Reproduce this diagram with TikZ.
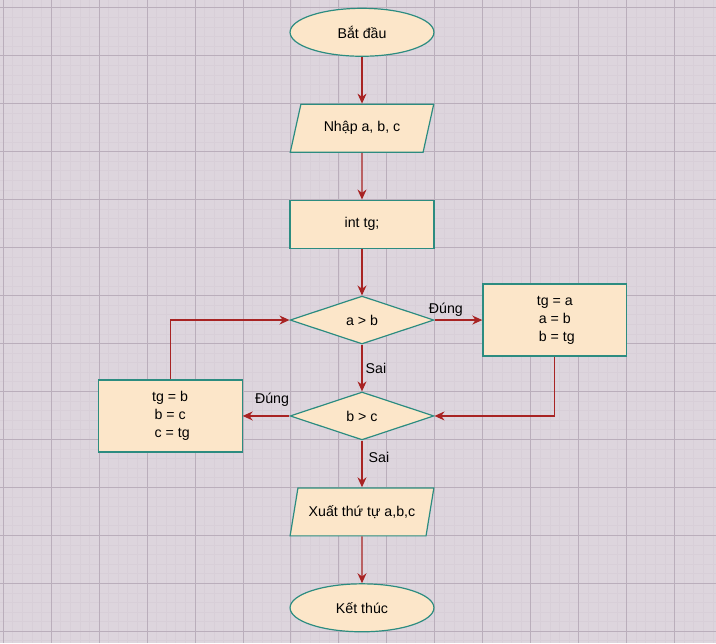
\documentclass[tikz,border=0pt]{standalone}
\usepackage{fontspec}
\setmainfont{Liberation Sans}
\usepackage{xcolor}
\usetikzlibrary{arrows.meta}
\usetikzlibrary{positioning,shapes.geometric,shapes}
\usetikzlibrary{calc}
\definecolor{bgcol}{HTML}{DDD5DD}
\definecolor{gridminor}{HTML}{D8CFD8}
\definecolor{gridmajor}{HTML}{BAAEBB}
\definecolor{boxfill}{HTML}{FCE6C9}
\definecolor{boxline}{HTML}{2C8C80}
\definecolor{arrowcol}{HTML}{A82323}

\begin{document}
\begin{tikzpicture}[x=1pt, y=-1pt, font=\fontsize{14.2}{18}\selectfont,
		base/.style = {draw=boxline, fill=boxfill, line width=1.2pt, inner sep=0pt, align=center},
		term/.style = {base, ellipse, minimum width=144pt, minimum height=48pt},
		io/.style = {base, trapezium, trapezium left angle=63.4, trapezium right angle=116.6, trapezium stretches=true, minimum width=144pt, minimum height=48pt},
		proc/.style = {base, rectangle, minimum width=144pt, minimum height=48pt},
		tall/.style = {proc, minimum height=72pt},
		cond/.style = {base, diamond, minimum width=144pt, minimum height=48pt},
		flow/.style = {draw=arrowcol, line width=1.2pt, -{Stealth[length=10pt,width=9pt]}}]
		% background and grid
		\fill[bgcol] (0,0) rectangle (716,643);
		\foreach \i in {0,...,74} {
			\draw[gridminor, line width=0.4pt] ({2.7+9.6*\i}, 0) -- ({2.7+9.6*\i}, 643);
		}
		\foreach \i in {0,...,66} {
			\draw[gridminor, line width=0.4pt] (0, {7.3+9.6*\i}) -- (716, {7.3+9.6*\i});
		}
		\foreach \i in {0,...,14} {
			\draw[gridmajor, line width=0.6pt] ({2.7+48*\i}, 0) -- ({2.7+48*\i}, 643);
		}
		\foreach \i in {0,...,13} {
			\draw[gridmajor, line width=0.6pt] (0, {7.3+48*\i}) -- (716, {7.3+48*\i});
		}
		\useasboundingbox (0,0) rectangle (716,643);
		% nodes
		\node[term] (start) at (362, 32) {Bắt đầu};
		\node[io] (input) at (362, 128) {Nhập a, b, c};
		\node[proc] (decl) at (362, 224) {int tg;};
		\node[cond] (ab) at (362, 320) {a > b};
		\node[tall] (swapab) at (555, 320) {tg = a\\a = b\\\ b = tg};
		\node[cond] (bc) at (362, 416) {b > c};
		\node[tall] (swapbc) at (170, 416) {tg = b\\b = c\\\ c = tg};
		\node[io] (output) at (362, 512) {Xuất thứ tự a,b,c};
		\node[term] (stop) at (362, 608) {Kết thúc};
		% labels
		\node (yes1) at (446, 310) {Đúng};
		\node (yes2) at (272, 400) {Đúng};
		\node (no1) at (376, 368) {Sai};
		\node (no2) at (379, 458) {Sai};
		% connectors
		\draw[flow] (start) -- (input);
		\draw[flow] (input) -- (decl);
		\draw[flow] (decl) -- (ab);
		\draw[flow] (ab) -- (swapab);
		\draw[flow] (ab) -- (bc);
		\draw[flow] (swapab.south) |- (bc.east);
		\draw[flow] (bc) -- (swapbc);
		\draw[flow] (swapbc.north) |- (ab.west);
		\draw[flow] (bc) -- (output);
		\draw[flow] (output) -- (stop);
	\end{tikzpicture}
\end{document}
